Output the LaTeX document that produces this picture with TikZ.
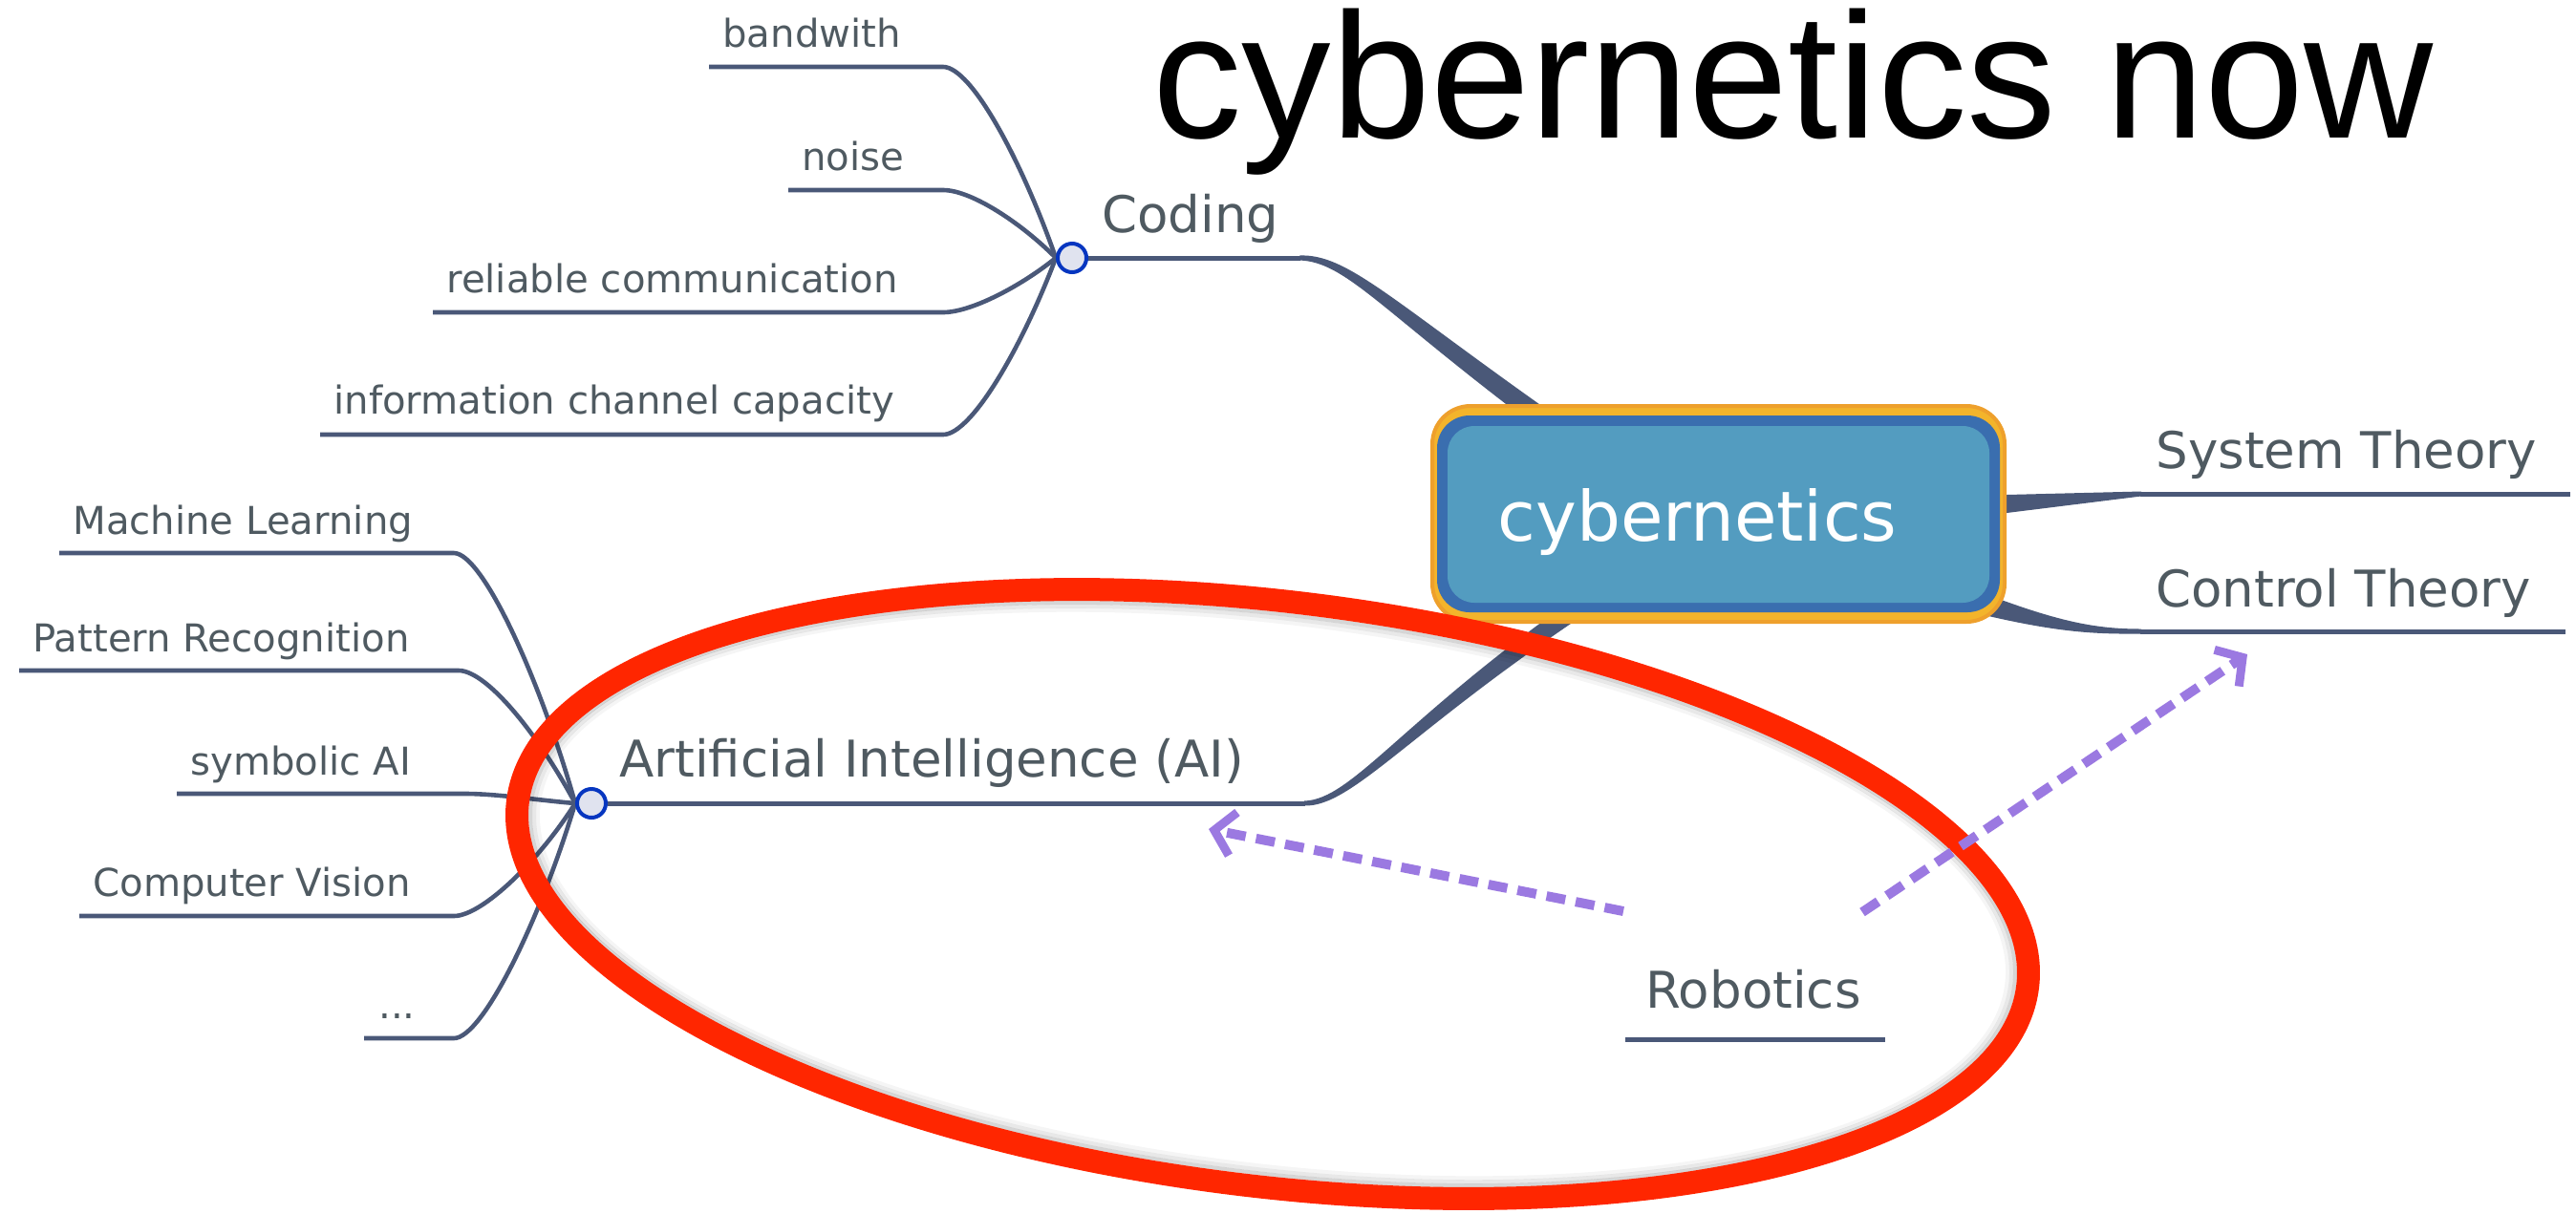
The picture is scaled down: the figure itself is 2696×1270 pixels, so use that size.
\documentclass[tikz,border=0pt]{standalone}
\usepackage{fontspec}
\setmainfont{DejaVu Sans}
\newfontfamily\titlefont{Liberation Sans}
\usetikzlibrary{arrows.meta}
\definecolor{mmline}{HTML}{4A5878}
\definecolor{mmtext}{HTML}{4F5A61}
\definecolor{hubblue}{HTML}{0636C0}
\definecolor{hubfill}{HTML}{E0E3EF}
\definecolor{boxorange}{HTML}{EEA02C}
\definecolor{boxyellow}{HTML}{F3B42B}
\definecolor{boxborder}{HTML}{3A6EAF}
\definecolor{boxfill}{HTML}{539CC0}
\definecolor{ringred}{HTML}{FF2600}
\definecolor{arrpurple}{HTML}{9B79E1}
\pgfdeclarelayer{bg}
\pgfsetlayers{bg,main}
\begin{document}
\begin{tikzpicture}[x=0.5pt,y=-0.5pt,
  leaf/.style={font=\fontsize{20.1}{24}\selectfont, text=mmtext, inner sep=0, anchor=base west},
  branch/.style={font=\fontsize{26.5}{32}\selectfont, text=mmtext, inner sep=0, anchor=base west},
  leafline/.style={draw=mmline, line width=2.3pt},
  hub/.style={circle, draw=hubblue, fill=hubfill, line width=2pt, minimum size=15pt, inner sep=0},
  taper/.style={fill=mmline, draw=none},
  dasharrow/.style={draw=arrpurple, line width=5pt, dash pattern=on 10pt off 5.5pt,
    -{Straight Barb[length=10pt,width=23pt,line width=4.5pt]}}]
\useasboundingbox (0,0) rectangle (2696,1270);

% hubs
\node[hub] (cod) at (1122,270) {};
\node[hub] (ai) at (619,841) {};

% leaf texts (coding)
\node[leaf] (bw) at (756,49) {bandwith};
\node[leaf] (noise) at (839,178) {noise};
\node[leaf] (rel) at (467,306) {reliable communication};
\node[leaf] (info) at (349,433) {information channel capacity};
% leaf texts (AI)
\node[leaf] (ml) at (76,559) {Machine Learning};
\node[leaf] (pr) at (34,682) {Pattern Recognition};
\node[leaf] (sym) at (199,811) {symbolic AI};
\node[leaf] (cv) at (97,938) {Computer Vision};
\node[leaf] (dots) at (396,1066) {...};

% branch texts
\node[branch] (coding) at (1153,243) {Coding};
\node[branch] (aitext) at (648,813) {Artificial Intelligence (AI)};
\node[branch] (sys) at (2256,490) {System Theory};
\node[branch] (ctrl) at (2256,635) {Control Theory};
\node[branch] (rob) at (1722,1055) {Robotics};

\begin{pgfonlayer}{bg}
% coding leaves
\draw[leafline] (742,70) -- (987,70) .. controls (1017,70) and (1070,170) .. (cod.west);
\draw[leafline] (825,199) -- (987,199) .. controls (1017,199) and (1070,234.5) .. (cod.west);
\draw[leafline] (453,327) -- (987,327) .. controls (1017,327) and (1070,298.5) .. (cod.west);
\draw[leafline] (335,455) -- (987,455) .. controls (1017,455) and (1070,362.5) .. (cod.west);
% AI leaves
\draw[leafline] (62,579) -- (475,579) .. controls (505,579) and (565,710) .. (ai.west);
\draw[leafline] (20,702) -- (480,702) .. controls (510,702) and (565,771.5) .. (ai.west);
\draw[leafline] (185,831) -- (487,831) .. controls (520,831) and (565,838) .. (ai.west);
\draw[leafline] (83,959) -- (475,959) .. controls (505,959) and (565,900) .. (ai.west);
\draw[leafline] (381,1087) -- (475,1087) .. controls (505,1087) and (565,964) .. (ai.west);
% branch lines
\draw[mmline, line width=2.5pt] (cod.east) -- (1361,270);
\draw[mmline, line width=2.5pt] (ai.east) -- (1366,841);
\draw[mmline, line width=2.5pt] (2240,517) -- (2690,517);
\draw[mmline, line width=2.5pt] (2240,661) -- (2685,661);
\draw[mmline, line width=2.5pt] (1701,1088) -- (1973,1088);
% tapered connectors
\fill[taper] (1360,272.5) .. controls (1410,274.5) and (1445.3,326.5) .. (1623.6,458.9)
  -- (1636.4,441.1) .. controls (1454.7,313.5) and (1410,265.5) .. (1360,267.5) -- cycle;
\fill[taper] (1365,843.5) .. controls (1415,845) and (1474,765.8) .. (1665.7,638.3)
  -- (1654.4,621.8) .. controls (1466,754.2) and (1415,837) .. (1365,838.5) -- cycle;
\fill[taper] (2060,519) -- (2241,514.5) -- (2241,519.5) -- (2060,542) -- cycle;
\fill[taper] (2060,615) .. controls (2150,650) and (2190,658.5) .. (2241,658.5)
  -- (2241,663.5) .. controls (2190,664) and (2150,662) .. (2060,640) -- cycle;
\end{pgfonlayer}

% central box
\path[fill=boxyellow, draw=boxorange, line width=2pt, rounded corners=20pt] (1499,425) rectangle (2098,651);
\fill[boxborder, rounded corners=17pt] (1504,435) rectangle (2093,641);
\fill[boxfill, rounded corners=14pt] (1515,446) rectangle (2082,631);
\node[font=\fontsize{36.2}{42}\selectfont, text=white, inner sep=0, anchor=base west] (cyb) at (1567,566) {cybernetics};

% title
\node[font=\titlefont\fontsize{93.5}{100}\selectfont, text=black, inner sep=0, anchor=base west] (title) at (1206,144) {cybernetics now};

% red ellipse with soft inner shadow
\begin{scope}[rotate around={-7:(1332,936)}]
  \draw[black, opacity=0.16, line width=2pt] (1332,936) ellipse [x radius=391pt, y radius=146pt];
  \draw[black, opacity=0.09, line width=2pt] (1332,936) ellipse [x radius=389pt, y radius=144pt];
  \draw[black, opacity=0.04, line width=2pt] (1332,936) ellipse [x radius=387pt, y radius=142pt];
  \draw[ringred, line width=12pt] (1332,936) ellipse [x radius=398pt, y radius=153pt];
\end{scope}

% dashed arrows
\coordinate (r1) at (1699,954);
\coordinate (t1) at (1265,868);
\coordinate (r2) at (1949,955);
\coordinate (t2) at (2352,685);
\draw[dasharrow] (r1) -- (t1);
\draw[dasharrow] (r2) -- (t2);
\end{tikzpicture}
\end{document}
